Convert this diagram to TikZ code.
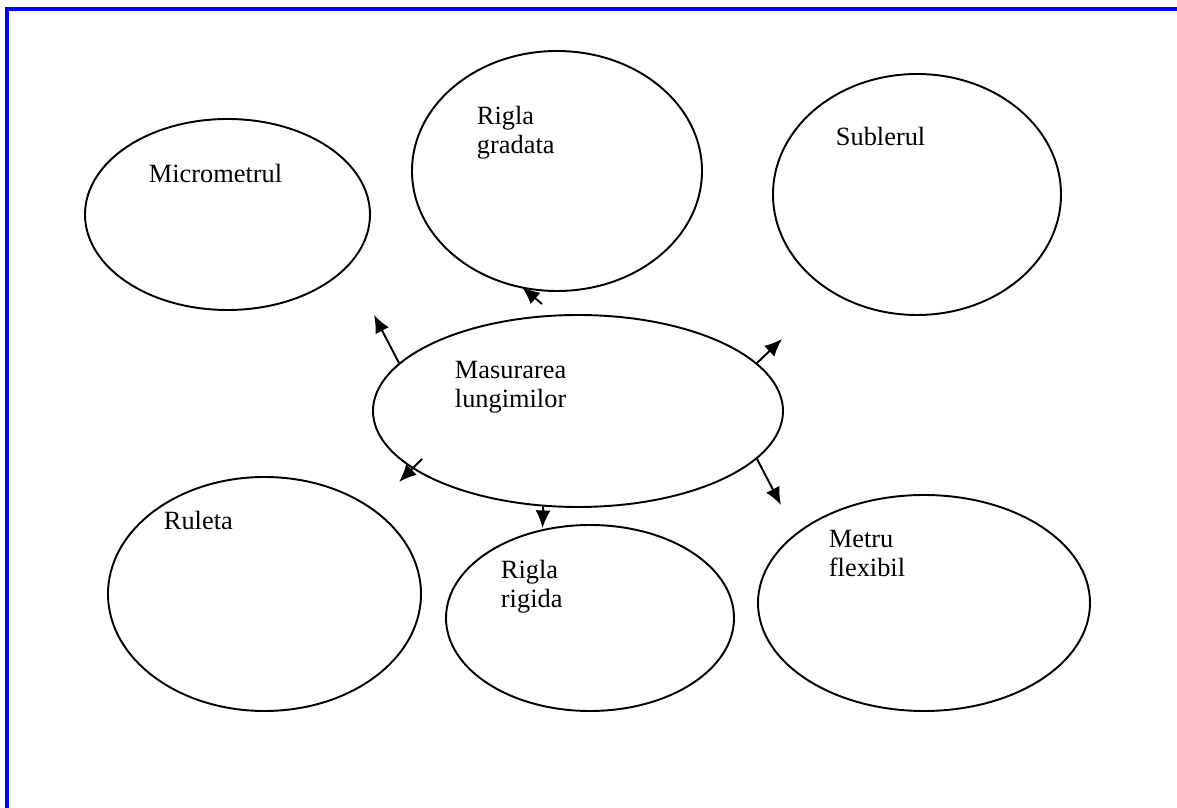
\documentclass[tikz,border=0pt]{standalone}
\usepackage{fontspec}
\setmainfont{Liberation Serif}
\usetikzlibrary{shapes.geometric, arrows.meta}

\begin{document}
\begin{tikzpicture}[font=\fontsize{15}{17}\selectfont, line width=1.1pt, >={Latex[length=10pt, width=8.5pt]},
    bolla/.style={ellipse, draw, line width=1.1pt, inner sep=0pt},
    testo/.style={anchor=base west, align=left, inner sep=0pt}]

        \useasboundingbox (0,0) rectangle (23.54,16.16);

        % --- Cornice blu (solo lato sinistro e superiore) ---
        \draw[blue, line width=1.8pt] (0.14,0) -- (0.14,15.98) -- (23.54,15.98);

        % --- Ellisse centrale ---
        \node[bolla, minimum width=8.20cm, minimum height=3.84cm] (centru) at (11.56, 7.94) {};
        % base = linea di base dell'ultima riga
        \node[testo] (tcentru) at (9.08, 8.00) {Masurarea\\lungimilor};

        % --- Ellissi esterne ---
        % \nome = nome del nodo, \x/\y = centro, \w/\h = dimensioni
        \foreach \nome / \x / \y / \w / \h in {
            micro   /  4.55 / 11.87 / 5.70 / 3.82,
            gradata / 11.14 / 12.74 / 5.80 / 4.80,
            subler  / 18.34 / 12.27 / 5.76 / 4.82,
            ruleta  /  5.29 /  4.28 / 6.26 / 4.68,
            rigida  / 11.80 /  3.80 / 5.76 / 3.72,
            metru   / 18.48 /  4.10 / 6.64 / 4.32
        } {
            \node[bolla, minimum width=\w cm, minimum height=\h cm] (\nome) at (\x, \y) {};
        }

        % --- Etichette ---
        \node[testo] (tmicro)   at (2.96, 12.50) {Micrometrul};
        \node[testo] (tgradata) at (9.52, 13.08) {Rigla\\gradata};
        \node[testo] (tsubler)  at (16.70, 13.24) {Sublerul};
        \node[testo] (truleta)  at (3.26, 5.56) {Ruleta};
        \node[testo] (trigida)  at (10.00, 4.00) {Rigla\\rigida};
        \node[testo] (tmetru)   at (16.56, 4.62) {Metru\\flexibil};

        % --- Frecce corte uscenti dal centro ---
        \coordinate (pMicro)   at (7.48, 9.86);
        \coordinate (sGradata) at (10.84, 10.08);
        \coordinate (pGradata) at (10.44, 10.42);
        \coordinate (pSubler)  at (15.64, 9.38);
        \coordinate (pMetru)   at (15.62, 6.06);
        \coordinate (pRigida)  at (10.85, 5.60);
        \coordinate (sRuleta)  at (8.44, 6.98);
        \coordinate (pRuleta)  at (7.98, 6.52);

        \draw[->] (centru.165) -- (pMicro);
        \draw[->] (sGradata) -- (pGradata);
        \draw[->] (centru.15) -- (pSubler);
        \draw[->] (centru.-15) -- (pMetru);
        \draw[->] (centru.-110.6) -- (pRigida);
        \draw[->] (sRuleta) -- (pRuleta);

    \end{tikzpicture}
\end{document}
